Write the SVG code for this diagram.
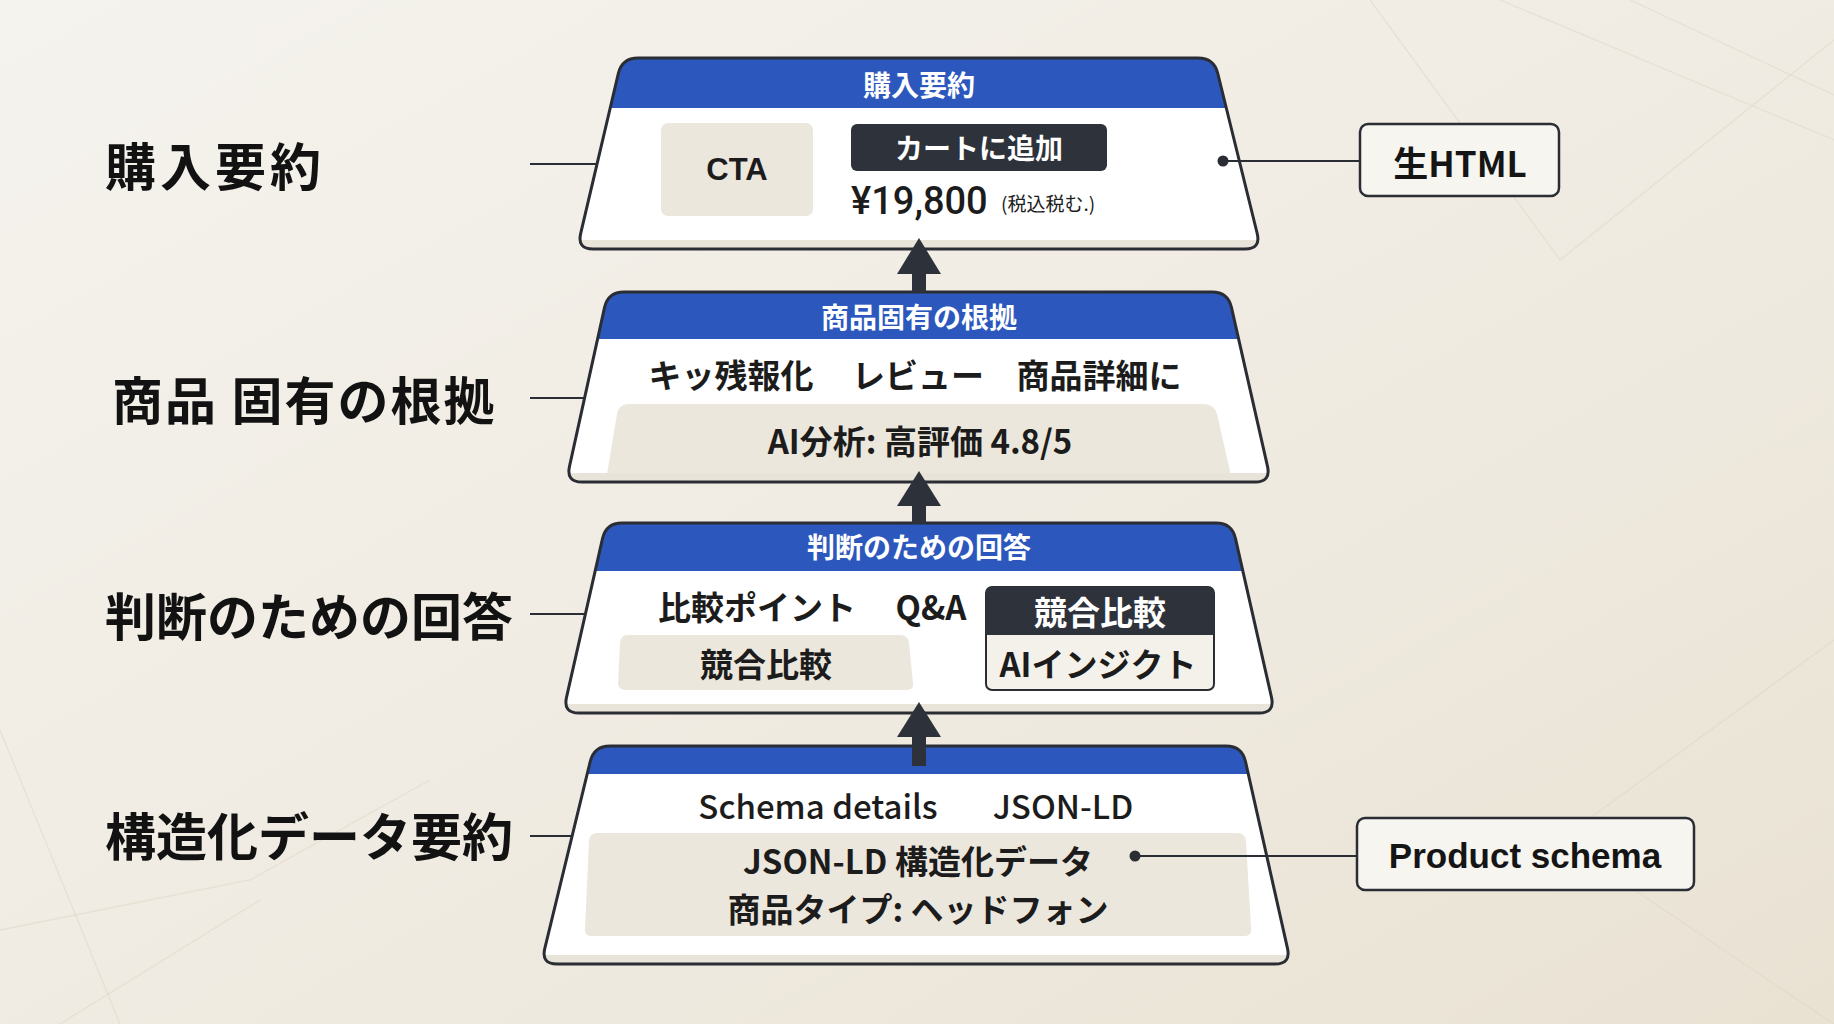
<svg xmlns="http://www.w3.org/2000/svg" xmlns:xlink="http://www.w3.org/1999/xlink" width="1834" height="1024" viewBox="0 0 1834 1024">
<defs>
<linearGradient id="bg" x1="0" y1="0" x2="1" y2="1">
<stop offset="0" stop-color="#f5f3ee"/>
<stop offset="0.6" stop-color="#efeae0"/>
<stop offset="1" stop-color="#e9e2d3"/>
</linearGradient>
<path id="s1" d="M638,58 L1198,58 Q1214,58 1217.8,73.5 L1257.2,233.5 Q1261,249 1245,249 L593,249 Q577,249 580.7,233.4 L618.3,73.6 Q622,58 638,58 Z"/>
<path id="s2" d="M624,292 L1212,292 Q1228,292 1231.5,307.6 L1267.5,466.4 Q1271,482 1255,482 L582,482 Q566,482 569.5,466.4 L604.5,307.6 Q608,292 624,292 Z"/>
<path id="s3" d="M622,523 L1216,523 Q1232,523 1235.5,538.6 L1271.5,697.4 Q1275,713 1259,713 L579,713 Q563,713 566.5,697.4 L602.5,538.6 Q606,523 622,523 Z"/>
<path id="s4" d="M610,746 L1226,746 Q1242,746 1245.5,761.6 L1287.5,948.4 Q1291,964 1275,964 L557,964 Q541,964 544.8,948.4 L590.2,761.6 Q594,746 610,746 Z"/>
<clipPath id="c1"><use xlink:href="#s1"/></clipPath>
<clipPath id="c2"><use xlink:href="#s2"/></clipPath>
<clipPath id="c3"><use xlink:href="#s3"/></clipPath>
<clipPath id="c4"><use xlink:href="#s4"/></clipPath>
<style>
.face{fill:#ffffff}
.edge{fill:none;stroke:#2a2d33;stroke-width:3}
.hdr{fill:#2c58bd}
.strip{fill:#e9e4d9}
.tan{fill:#ece7dc}
.dark{fill:#2e323a}
.lbl{font-family:"Noto Sans CJK JP","Liberation Sans",sans-serif;font-weight:700;font-size:51px;fill:#121212;dominant-baseline:central}
.ht{font-family:"Noto Sans CJK JP","Liberation Sans",sans-serif;font-weight:700;font-size:28px;fill:#ffffff;text-anchor:middle;dominant-baseline:central}
.tx{font-family:"Noto Sans CJK JP","Liberation Sans",sans-serif;font-weight:700;font-size:33px;fill:#1c1c1c;text-anchor:middle;dominant-baseline:central}
.wt{fill:#ffffff}
.conn{stroke:#2a2d33;stroke-width:2.2;fill:none}
.dot{fill:#2a2d33}
.arrow{fill:#2d3139}
.side{fill:#f7f5f0;stroke:#2a2d33;stroke-width:2.5}
.st{font-family:"Liberation Sans","Noto Sans CJK JP",sans-serif;font-weight:700;font-size:35px;fill:#151515;text-anchor:middle;dominant-baseline:central}
.bgl{stroke:#ddd5c4;stroke-width:1.3;fill:none;opacity:0.5}
</style>
</defs>

<rect width="1834" height="1024" fill="url(#bg)"/>
<g id="background-lines">
<path class="bgl" d="M1500,0 L1834,140"/>
<path class="bgl" d="M1630,0 L1834,95"/>
<path class="bgl" d="M1834,40 L1560,260 L1370,0"/>
<path class="bgl" d="M1834,640 L1560,840 L1834,1024"/>
<path class="bgl" d="M0,730 L120,1024"/>
<path class="bgl" d="M0,930 L250,880 L430,780"/>
<path class="bgl" d="M60,1024 L260,900"/>
</g>

<g id="left-labels">
<text class="lbl" x="105" y="164" letter-spacing="4">購入要約</text>
<text class="lbl" x="112" y="398" letter-spacing="2">商品 固有の根拠</text>
<text class="lbl" x="105" y="614">判断のための回答</text>
<text class="lbl" x="105" y="834">構造化データ要約</text>
</g>

<g id="layer-purchase">
<use xlink:href="#s1" class="face"/>
<g clip-path="url(#c1)">
<rect class="hdr" x="560" y="50" width="720" height="58"/>
<rect class="strip" x="560" y="240" width="720" height="12"/>
</g>
<use xlink:href="#s1" class="edge"/>
<text class="ht" x="919" y="84">購入要約</text>
<rect class="tan" x="661" y="123" width="152" height="93" rx="7"/>
<text class="tx" x="737" y="169" style="font-family:'Liberation Sans',sans-serif;font-size:31px">CTA</text>
<rect class="dark" x="851" y="124" width="256" height="47" rx="6"/>
<text class="tx wt" x="979" y="147" style="font-size:28px">カートに追加</text>
<text class="tx" x="851" y="201" style="text-anchor:start;font-family:Roboto,'Liberation Sans',sans-serif;font-weight:500;font-size:38px">¥19,800</text>
<text class="tx" x="1001" y="202" style="text-anchor:start;font-weight:400;font-size:19px">(税込税む.)</text>
</g>

<g id="layer-evidence">
<use xlink:href="#s2" class="face"/>
<g clip-path="url(#c2)">
<rect class="hdr" x="540" y="285" width="760" height="54"/>
<path class="tan" d="M628,404 L1204,404 Q1214,404 1217,414 L1232,480 L606,480 L617,414 Q619,404 628,404 Z"/>
<rect class="strip" x="540" y="473" width="760" height="12"/>
</g>
<use xlink:href="#s2" class="edge"/>
<text class="ht" x="919" y="316">商品固有の根拠</text>
<text class="tx" x="731" y="374">キッ残報化</text>
<text class="tx" x="918" y="374">レビュー</text>
<text class="tx" x="1099" y="374">商品詳細に</text>
<text class="tx" x="920" y="440">AI分析: 高評価 4.8/5</text>
</g>

<g id="layer-answers">
<use xlink:href="#s3" class="face"/>
<g clip-path="url(#c3)">
<rect class="hdr" x="540" y="515" width="760" height="56"/>
<rect class="strip" x="540" y="704" width="760" height="12"/>
</g>
<use xlink:href="#s3" class="edge"/>
<text class="ht" x="919" y="546">判断のための回答</text>
<text class="tx" x="757" y="606">比較ポイント</text>
<text class="tx" x="931" y="606">Q&amp;A</text>
<path class="tan" d="M627,635 L900,635 Q908,635 909,643 L913,683 Q914,690 906,690 L626,690 Q618,690 618,683 L620,643 Q621,635 627,635 Z"/>
<text class="tx" x="766" y="663">競合比較</text>
<rect x="986" y="587" width="228" height="103" rx="6" fill="#f4f1ea" stroke="#2a2d33" stroke-width="2"/>
<path class="dark" d="M986,635 L986,593 Q986,587 992,587 L1208,587 Q1214,587 1214,593 L1214,635 Z"/>
<text class="tx wt" x="1100" y="611">競合比較</text>
<text class="tx" x="1098" y="663">AIインジクト</text>
</g>

<g id="layer-structured">
<use xlink:href="#s4" class="face"/>
<g clip-path="url(#c4)">
<rect class="hdr" x="530" y="740" width="780" height="34"/>
<path class="tan" d="M597,833 L1237,833 Q1245,833 1246,841 L1251,928 Q1252,936 1244,936 L592,936 Q584,936 585,928 L589,841 Q590,833 597,833 Z"/>
<rect class="strip" x="530" y="955" width="780" height="12"/>
</g>
<use xlink:href="#s4" class="edge"/>
<text class="tx" x="818" y="805" style="font-weight:500">Schema details</text>
<text class="tx" x="1063" y="805" style="font-weight:500">JSON-LD</text>
<text class="tx" x="918" y="860">JSON-LD 構造化データ</text>
<text class="tx" x="918" y="908">商品タイプ: ヘッドフォン</text>
</g>

<g id="connectors">
<line class="conn" x1="530" y1="164" x2="597" y2="164"/>
<line class="conn" x1="530" y1="398" x2="585" y2="398"/>
<line class="conn" x1="530" y1="614" x2="585" y2="614"/>
<line class="conn" x1="530" y1="836" x2="572" y2="836"/>
<line class="conn" x1="1223" y1="161" x2="1360" y2="161"/>
<circle class="dot" cx="1223" cy="161" r="5.5"/>
<line class="conn" x1="1135" y1="856" x2="1357" y2="856"/>
<circle class="dot" cx="1135" cy="856" r="5.5"/>
<rect class="arrow" x="912" y="268" width="14" height="25"/>
<polygon class="arrow" points="919,238 897,274 941,274"/>
<rect class="arrow" x="912" y="500" width="14" height="24"/>
<polygon class="arrow" points="919,471 897,506 941,506"/>
<rect class="arrow" x="912" y="730" width="14" height="36"/>
<polygon class="arrow" points="919,702 897,737 941,737"/>
</g>

<g id="node-raw-html">
<rect class="side" x="1360" y="124" width="199" height="72" rx="8"/>
<text class="st" x="1460" y="161" style="font-family:'Noto Sans CJK JP','Liberation Sans',sans-serif">生HTML</text>
</g>

<g id="node-product-schema">
<rect class="side" x="1357" y="818" width="337" height="72" rx="8"/>
<text class="st" x="1525" y="855">Product schema</text>
</g>
</svg>
